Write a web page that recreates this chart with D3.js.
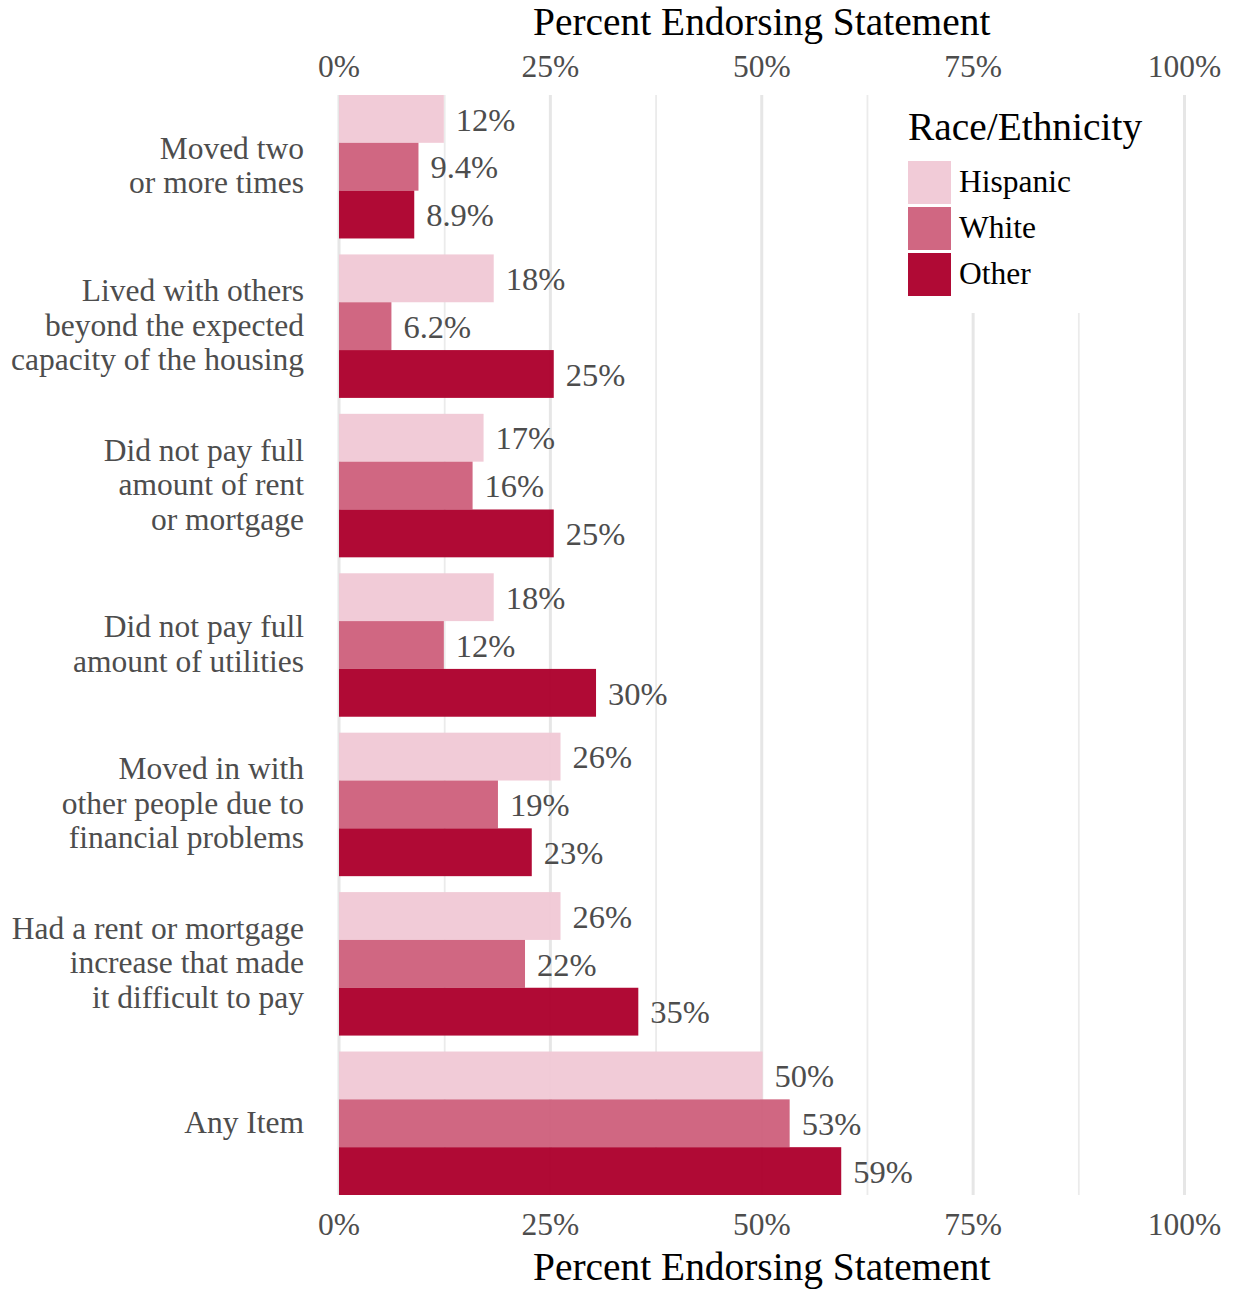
<!DOCTYPE html>
<html>
<head>
<meta charset="utf-8">
<script src="https://cdn.jsdelivr.net/npm/d3@7"></script>
<style>
  html, body { margin: 0; padding: 0; background: #fff; }
  svg { display: block; }
  text { font-family: "Liberation Serif", "Times New Roman", serif; }
</style>
</head>
<body>
<svg id="chart" width="1234" height="1289"></svg>
<script>
// ---- data ----
const categories = [
  "Moved two\nor more times",
  "Lived with others\nbeyond the expected\ncapacity of the housing",
  "Did not pay full\namount of rent\nor mortgage",
  "Did not pay full\namount of utilities",
  "Moved in with\nother people due to\nfinancial problems",
  "Had a rent or mortgage\nincrease that made\nit difficult to pay",
  "Any Item"
];
const groups = ["Hispanic", "White", "Other"];
const hispanic = [12.4, 18.3, 17.1, 18.3, 26.2, 26.2, 50.1];
const white    = [9.4, 6.2, 15.8, 12.4, 18.8, 22.0, 53.3];
const other    = [8.9, 25.4, 25.4, 30.4, 22.8, 35.4, 59.4];
const xTicks = [0, 25, 50, 75, 100];
const xMinor = [12.5, 37.5, 62.5, 87.5];
const colors = ["#f0c9d5", "#ce617d", "#ad002d"];
const axisTitle = "Percent Endorsing Statement";
const legendTitle = "Race/Ethnicity";

const series = [hispanic, white, other];
const rows = categories.map((c, i) => ({
  cat: c,
  vals: groups.map((g, j) => ({ group: g, value: series[j][i] }))
}));

// ---- layout ----
const svg = d3.select("#chart");
const panel = { left: 339, right: 1184.5, top: 95, bottom: 1195 };
const x = d3.scaleLinear().domain([0, 100]).range([panel.left, panel.right]);
const y = d3.scaleBand().domain(categories).range([panel.top, panel.bottom]).paddingInner(0.1).paddingOuter(0);
const yInner = d3.scaleBand().domain(groups).range([0, y.bandwidth()]);
const color = d3.scaleOrdinal().domain(groups).range(colors);
const fmt = v => d3.format(".2r")(v) + "%";

const txtSize = 31.5, valSize = 32.5, titleSize = 39.4;
const grey = "#4d4d4d";
const barOpacity = 0.96;

// gridlines
const grid = svg.append("g");
grid.selectAll("line.minor").data(xMinor).join("line")
  .attr("x1", d => x(d)).attr("x2", d => x(d))
  .attr("y1", panel.top).attr("y2", panel.bottom)
  .attr("stroke", "#ebebeb").attr("stroke-width", 1.8);
grid.selectAll("line.major").data(xTicks).join("line")
  .attr("x1", d => x(d)).attr("x2", d => x(d))
  .attr("y1", panel.top).attr("y2", panel.bottom)
  .attr("stroke", "#e6e6e6").attr("stroke-width", 3);

// bars
const rowG = svg.append("g").selectAll("g").data(rows).join("g")
  .attr("transform", d => `translate(0,${y(d.cat)})`);
rowG.selectAll("rect").data(d => d.vals).join("rect")
  .attr("x", x(0))
  .attr("y", d => yInner(d.group))
  .attr("width", d => x(d.value) - x(0))
  .attr("height", yInner.bandwidth())
  .attr("fill", d => color(d.group))
  .attr("fill-opacity", barOpacity);
rowG.selectAll("text").data(d => d.vals).join("text")
  .attr("x", d => x(d.value) + 12)
  .attr("y", d => yInner(d.group) + yInner.bandwidth() / 2 + valSize * 0.36)
  .attr("font-size", valSize)
  .attr("fill", grey)
  .text(d => fmt(d.value));

// category labels
const lineH = 34.5;
svg.append("g").selectAll("text").data(categories).join("text")
  .attr("text-anchor", "end")
  .attr("font-size", txtSize)
  .attr("fill", grey)
  .each(function(d) {
    const lines = d.split("\n");
    const cy = y(d) + y.bandwidth() / 2;
    const t = d3.select(this);
    lines.forEach((ln, i) => {
      t.append("tspan")
        .attr("x", 304)
        .attr("y", cy + (i - (lines.length - 1) / 2) * lineH + txtSize * 0.3)
        .text(ln);
    });
  });

// x axes (top and bottom)
const tickFmt = d => d + "%";
function axisLabels(yPos) {
  svg.append("g").selectAll("text").data(xTicks).join("text")
    .attr("x", d => x(d)).attr("y", yPos)
    .attr("text-anchor", "middle")
    .attr("font-size", txtSize)
    .attr("fill", grey)
    .text(tickFmt);
}
axisLabels(77);
axisLabels(1235);

const midX = (panel.left + panel.right) / 2;
svg.append("text").attr("x", midX).attr("y", 35)
  .attr("text-anchor", "middle").attr("font-size", titleSize).attr("fill", "#000")
  .text(axisTitle);
svg.append("text").attr("x", midX).attr("y", 1280)
  .attr("text-anchor", "middle").attr("font-size", titleSize).attr("fill", "#000")
  .text(axisTitle);

// legend
const lg = svg.append("g");
lg.append("rect").attr("x", 890).attr("y", 88).attr("width", 272).attr("height", 225).attr("fill", "#fff");
lg.append("text").attr("x", 908).attr("y", 140)
  .attr("font-size", titleSize).attr("fill", "#000").text(legendTitle);
const keyH = 43, keyStep = 46, keyTop = 161;
lg.selectAll("rect.key").data(groups).join("rect")
  .attr("class", "key")
  .attr("x", 908).attr("y", (d, i) => keyTop + i * keyStep)
  .attr("width", 43).attr("height", keyH)
  .attr("fill", d => color(d)).attr("fill-opacity", barOpacity);
lg.selectAll("text.lab").data(groups).join("text")
  .attr("class", "lab")
  .attr("x", 959).attr("y", (d, i) => keyTop + i * keyStep + keyH / 2 + txtSize * 0.3)
  .attr("font-size", txtSize).attr("fill", "#000")
  .text(d => d);
</script>
</body>
</html>
